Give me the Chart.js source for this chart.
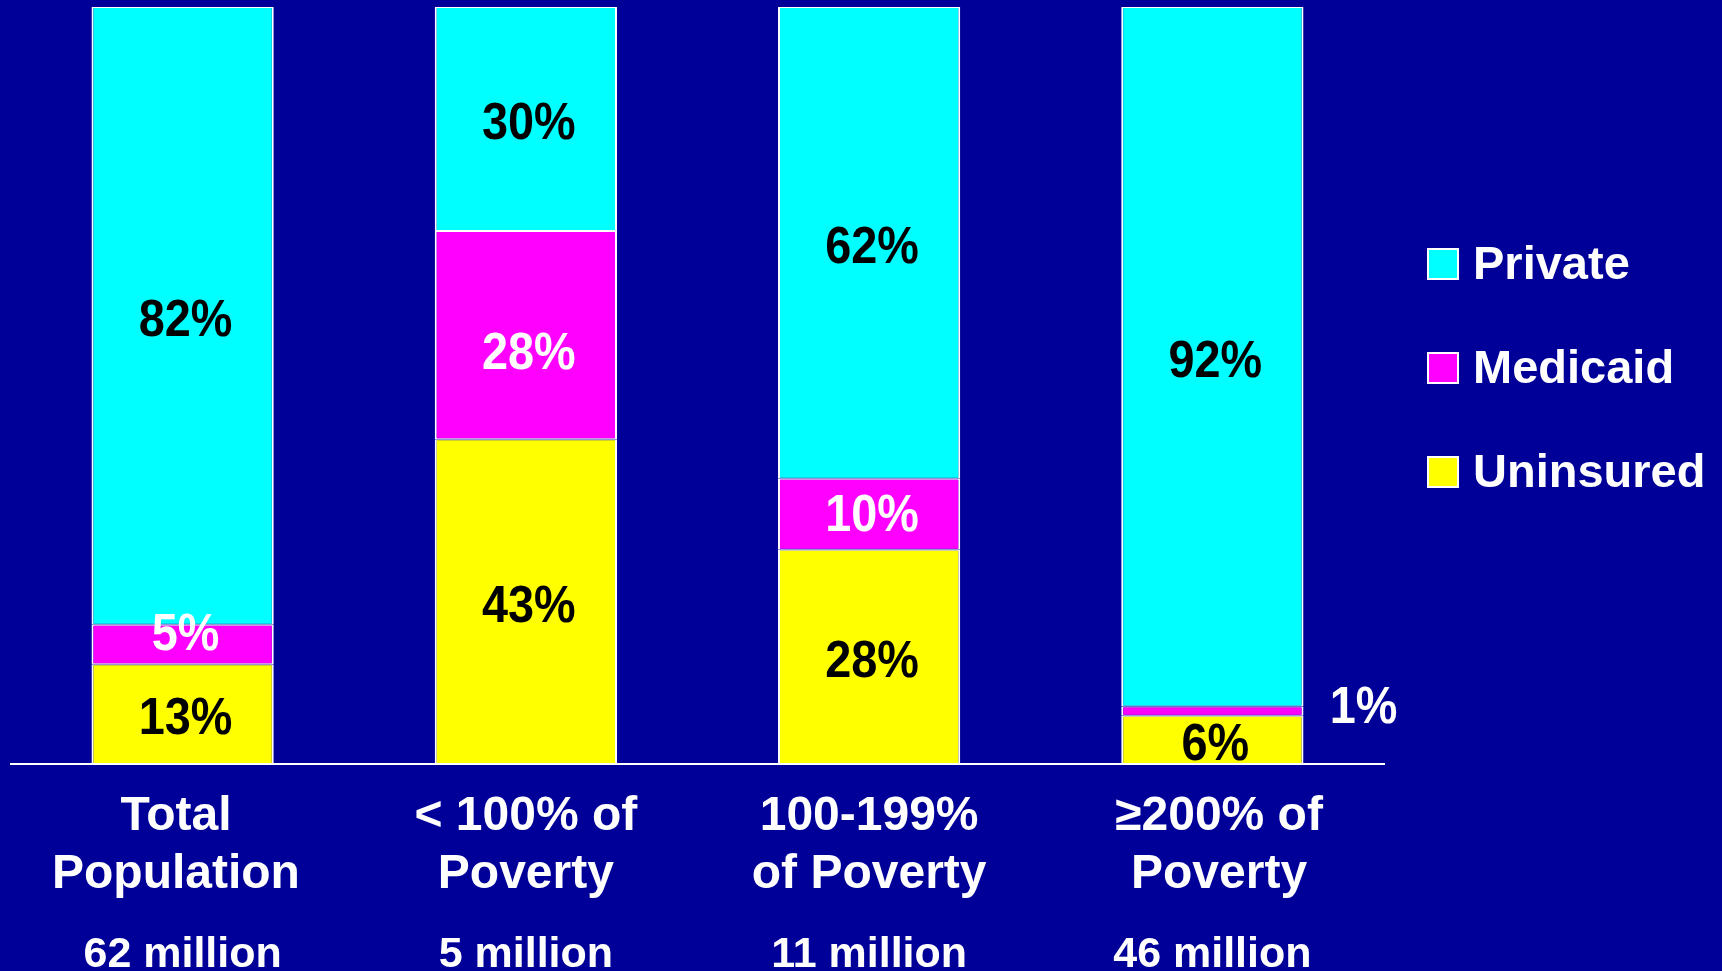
<!DOCTYPE html>
<html><head><meta charset="utf-8">
<script src="https://cdn.jsdelivr.net/npm/chart.js@4.4.1/dist/chart.umd.min.js"></script>
<style>html,body{margin:0;padding:0;background:#000099;overflow:hidden}</style></head>
<body><canvas id="c" width="1722" height="971"></canvas>
<script>
const categories = [['Total ','Population '],['< 100% of','Poverty'],['100-199%','of Poverty'],[' ≥200% of',' Poverty']];
const populations = ['62 million','5 million','11 million','46 million'];
const seriesNames = ['Uninsured','Medicaid','Private'];
const uninsured = [13.2, 42.9, 28.3, 6.4];
const medicaid = [5.2, 27.5, 9.4, 1.2];
const privateIns = [81.6, 29.6, 62.3, 92.4];
const uninsuredLabels = ['13%','43%','28%','6%'];
const medicaidLabels = ['5%','28%','10%','1%'];
const privateLabels = ['82%','30%','62%','92%'];
const colors = ['#FFFF00','#FF00FF','#00FFFF'];
const labelColors = ['#000000','#FFFFFF','#000000'];

const FONT = '"Liberation Sans", Arial, sans-serif';

const segLabels = {
  id: 'segLabels',
  afterDatasetsDraw(chart) {
    const ctx = chart.ctx;
    const lbls = [uninsuredLabels, medicaidLabels, privateLabels];
    const nudge = {'1-0': -11, '1-1': 17, '1-3': 0};
    chart.data.datasets.forEach((ds, di) => {
      const meta = chart.getDatasetMeta(di);
      meta.data.forEach((bar, i) => {
        const p = bar.getProps(['x','y','base','width'], true);
        let cx = p.x + 3;
        let cy = (p.y + p.base) / 2 + (nudge[di + '-' + i] || 0) + (di === 1 ? 0 : 4);
        if (di === 1 && i === 3) { cx = p.x + p.width / 2 + 60; cy -= 4; }
        ctx.save();
        ctx.translate(cx, cy);
        ctx.scale(0.9, 1);
        ctx.font = 'bold 52px ' + FONT;
        ctx.fillStyle = labelColors[di];
        ctx.textAlign = 'center';
        ctx.textBaseline = 'middle';
        ctx.fillText(lbls[di][i], 0, 2);
        ctx.restore();
      });
    });
  }
};

const sideLegend = {
  id: 'sideLegend',
  afterDraw(chart) {
    const ctx = chart.ctx;
    const order = [2, 1, 0];
    const ys = [264, 368, 472];
    order.forEach((di, k) => {
      const y = ys[k];
      ctx.save();
      ctx.fillStyle = '#FFFFFF';
      ctx.fillRect(1427, y - 16, 32, 32);
      ctx.fillStyle = colors[di];
      ctx.fillRect(1429, y - 14, 28, 28);
      ctx.font = 'bold 47px ' + FONT;
      ctx.fillStyle = '#FFFFFF';
      ctx.textAlign = 'left';
      ctx.textBaseline = 'middle';
      ctx.fillText(seriesNames[di], 1473, y + 2);
      ctx.restore();
    });
  }
};

const bgPlugin = {
  id: 'bg',
  beforeDraw(chart) {
    const ctx = chart.ctx;
    ctx.save();
    ctx.fillStyle = '#000099';
    ctx.fillRect(0, 0, chart.width, chart.height);
    ctx.restore();
  }
};

const values = [uninsured, medicaid, privateIns];
new Chart(document.getElementById('c'), {
  type: 'bar',
  data: {
    labels: categories,
    datasets: values.map((v, i) => ({
      label: seriesNames[i],
      data: v,
      backgroundColor: colors[i],
      borderColor: '#FFFFFF',
      borderWidth: {left: 2, right: 2, top: 1, bottom: 1},
      borderSkipped: false,
      categoryPercentage: 1,
      barPercentage: 0.531,
      xAxisID: 'x'
    }))
  },
  options: {
    responsive: false,
    devicePixelRatio: 1,
    animation: false,
    layout: {padding: {left: 11, top: 7, right: 338, bottom: -11}},
    plugins: {legend: {display: false}, tooltip: {enabled: false}},
    scales: {
      x: {
        stacked: true,
        grid: {display: false, drawTicks: false},
        border: {display: true, color: '#FFFFFF', width: 2},
        ticks: {color: '#FFFFFF', font: {family: FONT, weight: 'bold', size: 48, lineHeight: 1.2}, padding: 24, maxRotation: 0, autoSkip: false}
      },
      x2: {
        type: 'category',
        position: 'bottom',
        labels: populations,
        grid: {display: false, drawTicks: false},
        border: {display: false},
        ticks: {color: '#FFFFFF', font: {family: FONT, weight: 'bold', size: 43, lineHeight: 0.9}, padding: 8, maxRotation: 0, autoSkip: false}
      },
      y: {
        stacked: true,
        display: false,
        min: 0,
        max: 100
      }
    }
  },
  plugins: [bgPlugin, segLabels, sideLegend]
});
</script>
</body></html>
